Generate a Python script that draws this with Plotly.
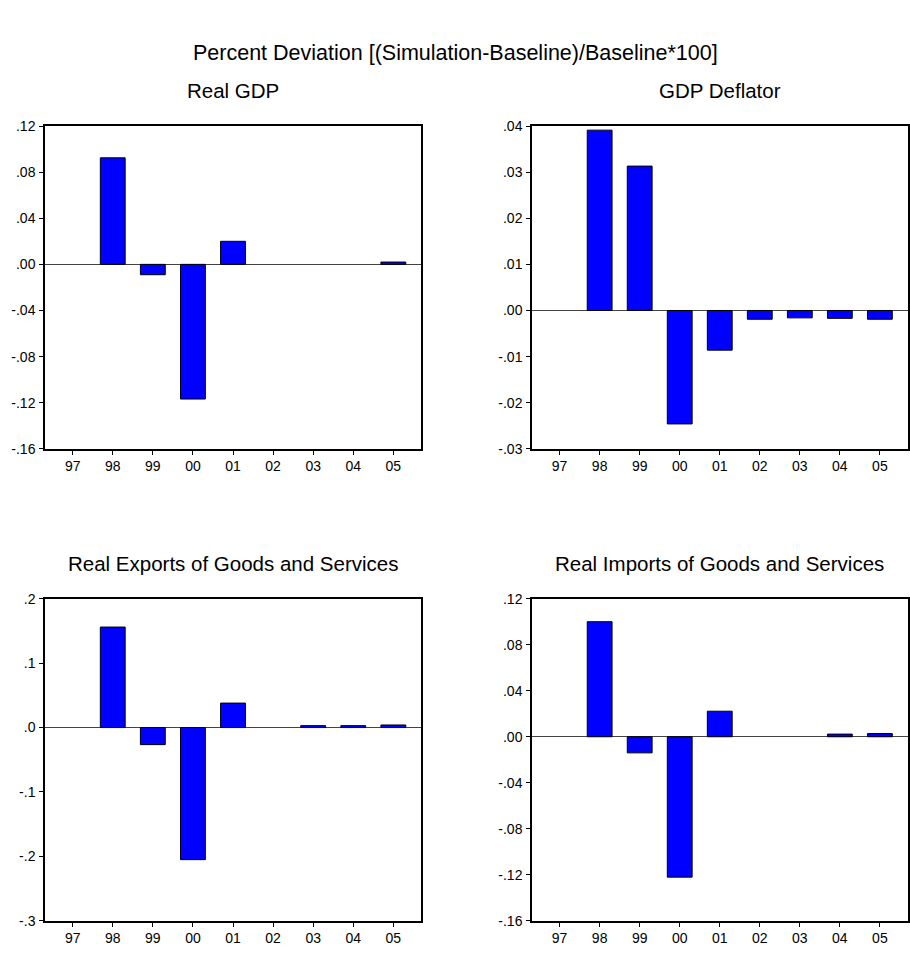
import plotly.graph_objects as go

# Years of the simulation horizon
years = ["97", "98", "99", "00", "01", "02", "03", "04", "05"]

# Percent deviation of each variable from baseline (None = no bar drawn)
real_gdp = [None, 0.0924, -0.0090, -0.1168, 0.0200, None, None, None, 0.0020]
gdp_deflator = [None, 0.0391, 0.0313, -0.0246, -0.0086, -0.0019, -0.0016, -0.0017, -0.0019]
real_exports = [None, 0.156, -0.0265, -0.205, 0.038, None, 0.003, 0.003, 0.004]
real_imports = [None, 0.100, -0.014, -0.122, 0.0222, None, None, 0.0023, 0.0028]

panel_titles = [
    "Real GDP",
    "GDP Deflator",
    "Real Exports of Goods and Services",
    "Real Imports of Goods and Services",
]

gdp_ticks = [0.12, 0.08, 0.04, 0.00, -0.04, -0.08, -0.12, -0.16]
deflator_ticks = [0.04, 0.03, 0.02, 0.01, 0.00, -0.01, -0.02, -0.03]
exports_ticks = [0.2, 0.1, 0.0, -0.1, -0.2, -0.3]
imports_ticks = [0.12, 0.08, 0.04, 0.00, -0.04, -0.08, -0.12, -0.16]


def tick_label(v, decimals):
    s = f"{abs(v):.{decimals}f}".lstrip("0")
    return ("-" if v < 0 else "") + s


W, H = 910, 961
FONT = "Liberation Sans, Arial, sans-serif"

# pixel boxes of the four plot frames: (left, right, top, bottom)
boxes = [
    (45, 421, 120, 448.3),
    (532, 907.5, 120, 448.3),
    (45, 421, 600.7, 928.3),
    (532, 907.5, 600.7, 928.3),
]

series = [real_gdp, gdp_deflator, real_exports, real_imports]
ticks = [gdp_ticks, deflator_ticks, exports_ticks, imports_ticks]
decimals = [2, 2, 1, 2]
ranges = [(-0.16, 0.12), (-0.03, 0.04), (-0.3, 0.2), (-0.16, 0.12)]

fig = go.Figure()
layout = {}
annotations = []

for i, (vals, tv, dec, rng, box, title) in enumerate(
    zip(series, ticks, decimals, ranges, boxes, panel_titles)
):
    n = "" if i == 0 else str(i + 1)
    xa, ya = "x" + n, "y" + n
    fig.add_trace(
        go.Bar(
            x=years,
            y=vals,
            xaxis=xa,
            yaxis=ya,
            width=0.62,
            marker=dict(color="#0000FF", line=dict(color="black", width=1)),
            showlegend=False,
        )
    )
    left, right, top, bottom = box
    common = dict(
        showline=True,
        linecolor="black",
        linewidth=1.5,
        mirror=True,
        showgrid=False,
        ticks="outside",
        ticklen=4,
        tickcolor="black",
        tickfont=dict(family=FONT, size=14, color="black"),
    )
    layout["xaxis" + n] = dict(
        common,
        domain=[left / W, right / W],
        anchor=ya,
        type="category",
        range=[-0.69, 8.69],
        zeroline=False,
    )
    layout["yaxis" + n] = dict(
        common,
        domain=[1 - bottom / H, 1 - top / H],
        anchor=xa,
        range=list(rng),
        tickvals=tv,
        ticktext=[tick_label(v, dec) for v in tv],
        zeroline=True,
        zerolinecolor="#444444",
        zerolinewidth=1,
        ticklabelstandoff=1,
    )
    annotations.append(
        dict(
            text=title,
            x=(left + right) / 2 / W,
            y=1 - (top - 36) / H,
            xref="paper",
            yref="paper",
            xanchor="center",
            yanchor="middle",
            showarrow=False,
            font=dict(family=FONT, size=20.5, color="black"),
        )
    )

annotations.append(
    dict(
        text="Percent Deviation [(Simulation-Baseline)/Baseline*100]",
        x=455 / W,
        y=1 - 46 / H,
        xref="paper",
        yref="paper",
        xanchor="center",
        yanchor="middle",
        showarrow=False,
        font=dict(family=FONT, size=21.5, color="black"),
    )
)

fig.update_layout(
    width=W,
    height=H,
    margin=dict(l=0, r=0, t=0, b=0),
    paper_bgcolor="white",
    plot_bgcolor="white",
    annotations=annotations,
    **layout,
)

fig.write_html("out.html")
